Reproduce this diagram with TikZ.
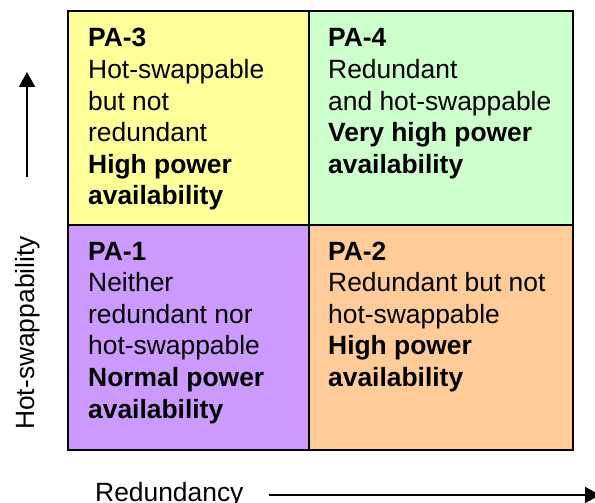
\documentclass[tikz,border=0pt]{standalone}
\usepackage{fontspec}
\setmainfont{Liberation Sans}
\usetikzlibrary{arrows.meta}
\definecolor{cellyellow}{HTML}{FFFF99}
\definecolor{cellgreen}{HTML}{CCFFCC}
\definecolor{cellpurple}{HTML}{CC99FF}
\definecolor{cellorange}{HTML}{FFCC99}
\begin{document}
\begin{tikzpicture}[x=1bp,y=-1bp,
  cell/.style={draw=black, line width=1.6bp, inner sep=0pt, anchor=north west},
  celltext/.style={anchor=base west, align=left, inner sep=0pt,
    font=\fontsize{26.4bp}{31.6bp}\selectfont},
  axislabel/.style={inner sep=0pt, font=\fontsize{26.4bp}{31.6bp}\selectfont},
  axis/.style={line width=2bp, -{Triangle[length=15bp,width=16bp]}}]
  \useasboundingbox (0,0) rectangle (595,503);

  % quadrants
  \node[cell, fill=cellyellow, minimum width=241bp, minimum height=214bp] (pa3) at (67,10) {};
  \node[cell, fill=cellgreen,  minimum width=264bp, minimum height=214bp] (pa4) at (308,10) {};
  \node[cell, fill=cellpurple, minimum width=241bp, minimum height=225bp] (pa1) at (67,224) {};
  \node[cell, fill=cellorange, minimum width=264bp, minimum height=225bp] (pa2) at (308,224) {};

  % quadrant texts (placed by the baseline of their last line)
  \node[celltext] (t3) at (88,205) {\textbf{PA-3}\\Hot-swappable\\but not\\redundant\\\textbf{High power}\\\textbf{availability}};
  \node[celltext] (t4) at (328,173.4) {\textbf{PA-4}\\Redundant\\and hot-swappable\\\textbf{Very high power}\\\textbf{availability}};
  \node[celltext] (t1) at (88,418) {\textbf{PA-1}\\Neither\\redundant nor\\hot-swappable\\\textbf{Normal power}\\\textbf{availability}};
  \node[celltext] (t2) at (328,386.4) {\textbf{PA-2}\\Redundant but not\\hot-swappable\\\textbf{High power}\\\textbf{availability}};

  % axes
  \coordinate (ybot) at (27,177);
  \coordinate (ytop) at (27,72);
  \draw[axis] (ybot) -- (ytop);
  \coordinate (xleft) at (269,495);
  \coordinate (xright) at (600,495);
  \draw[axis] (xleft) -- (xright);

  \node[axislabel, rotate=90, anchor=base] (ylab) at (34,333) {Hot-swappability};
  \node[axislabel, anchor=base west] (xlab) at (95,501) {Redundancy};
\end{tikzpicture}
\end{document}
